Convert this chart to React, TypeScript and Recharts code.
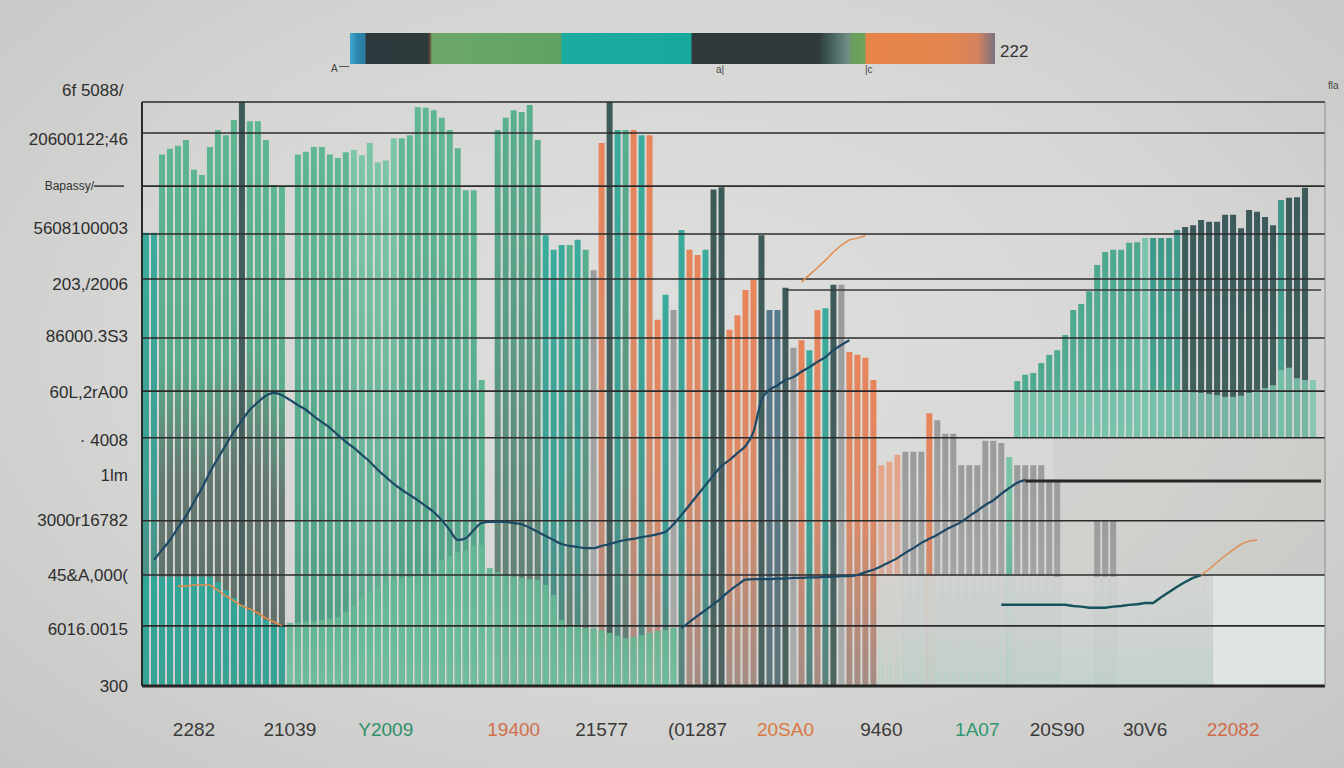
import React from "react";
import {
  ComposedChart,
  Bar,
  Line,
  Cell,
  XAxis,
  YAxis,
  ReferenceLine,
  ReferenceArea,
} from "recharts";

// 148 thin columns (value scale 0..100, bottom to top)
const N = 148;

const TALL = [
  77.6, 77.6, 91, 92, 92.5, 93.5, 88.4, 87.5, 92.3, 95.2, 94.3, 96.9, 100, 96.7, 96.7, 93.5, 85.8, 85.6, 0, 91,
  91.5, 92.3, 92.3, 91, 90.4, 91.4, 91.8, 90.9, 93, 89.7, 90, 93.8, 93.8, 94.3, 99.1, 99, 98.6, 97.3, 95.2, 92.1,
  84.9, 84.9, 52.4, 0, 95.2, 97.3, 98.6, 98.3, 99.5, 93.5, 77.2, 74.7, 75.5, 75.5, 76.4, 74.7, 71.2, 93, 100, 95.2,
  95.2, 95.2, 94.3, 94.3, 62.7, 67, 64.4, 78.1, 74.7, 73.8, 74.7, 85, 85.4, 61, 63.5, 67.8, 69.5, 77.2, 64.4, 64.4,
  68.2, 57.9, 59.2, 57.5, 64.4, 64.7, 68.7, 68.7, 57.2, 56.7, 56.2, 52.4, 37.8, 38.4, 39.6, 40.1, 40.1, 40.1, 46.7, 45.5,
  43.2, 43.2, 37.8, 37.8, 37.8, 42, 42, 41.6, 39.2, 37.8, 37.8, 37.8, 37.8, 35.3, 35.3, 0, 0, 0, 0, 28.4,
  28.4, 28.4,
];
// colour family of each tall column
const TALL_COLORS =
  "TTDDDDDDDDDDSDDDDDDGGGGGGGLLLLLLGGGGGGGGGGGGMMMMMMTTTMTMYOSTMOTOOTYTOOTSSOOOOSBBSYOTOTSYOOOOPPPYYYOYYYYYYYYYL";

const LOW = [
  18.7, 18.7, 18.7, 18.7, 18.7, 18.7, 18.7, 18.7, 18.7, 17.8, 16.4, 15.1, 13.9, 13, 12.2, 11.3, 10.6, 10.4, 10.8, 10.8,
  11, 11.1, 11.3, 11.5, 11.8, 12.7, 13.7, 15.1, 16.1, 17, 17.8, 18.2, 18.5, 18.7, 18.8, 19, 19.5, 21.6, 22.3, 22.9,
  23.3, 24, 24.1, 20.2, 19.5, 19, 18.7, 18.5, 18.3, 18.2, 17.3, 15.6, 11.3, 10.4, 10.1, 9.9, 9.8, 9.6, 9.1, 8.6,
  8.2, 8.4, 8.7, 9.1, 9.4, 9.6, 9.9,
];
const PALE_START = 92;
const PALE = [
  19, 19, 19, 19, 19, 19, 19, 19, 19, 19, 19, 19, 19, 19, 19, 19, 19, 19, 19, 19, 19, 19,
  18.7, 18.7, 18.7, 18.7, 18.7, 18.7, 18.7, 18.7, 18.7, 18.7, 18.7, 18.7, 18.7, 18.7, 18.7, 18.7, 18.7, 18.7, 18.7, 18.7,
];

// floating block on the right
const BLOCK_START = 109;
const BLOCK_BASE = 42.5;
const BLOCK_TOP = [
  52.2, 53.3, 53.6, 55.3, 56.7, 57.5, 60.1, 64.4, 65.4, 67.6, 72.1, 74.3, 74.7, 74.7, 75.9, 76, 76.7, 76.7, 76.7, 76.7,
  78.1, 78.6, 78.9, 79.8, 79.5, 79.5, 80.7, 80.7, 78.4, 81.5, 81.2, 80.3, 78.9, 83.2, 83.6, 83.7, 85.3,
];
const BLOCK_COLORS = "gggggggggggggggghttttsssssssssssstssss";
const LIGHT_TOP = [
  50.7, 50.7, 50.7, 50.7, 50.7, 50.7, 50.7, 50.7, 50.7, 50.7, 50.7, 50.7, 50.7, 50.7, 50.7, 50.7, 50.7, 50.7, 50.7, 50.7,
  50.7, 50.5, 50.3, 50.2, 50, 49.8, 49.5, 49.5, 49.7, 50.2, 50.7, 51, 51.5, 54.1, 54.5, 52.7, 52.4, 52.4,
];

const LINE_A_START = 1;
const LINE_A = [
  21.6, 23.3, 25, 27.1, 29.1, 31.5, 33.9, 36.6, 39, 41.3, 43.5, 45.5, 47.3, 48.6, 49.7, 50.2, 49.8, 49, 48.1, 47.3,
  46.2, 45.2, 44.2, 43, 41.8, 40.8, 39.6, 38.4, 37, 35.8, 34.6, 33.6, 32.7, 31.8, 30.8, 29.8, 28.4, 26.7, 25, 25.3,
  26.7, 27.9, 28.1, 28.1, 28.1, 27.9, 27.7, 27.1, 26.4, 25.7, 25, 24.3, 24, 23.8, 23.6, 23.6, 24, 24.3, 24.7, 25,
  25.2, 25.5, 25.7, 26, 26.4, 27.7, 29.3, 31, 32.7, 34.4, 36.1, 37.7, 38.7, 39.9, 41.1, 43.5, 49, 50.7, 51.5, 52.4,
  52.9, 53.8, 54.6, 55.5, 56.3, 57.5, 58.4, 59.2,
];
const LINE_B_START = 67;
const LINE_B = [
  9.9, 11, 12, 13, 14, 15.1, 16.3, 17.3, 18.2, 18.3, 18.3, 18.3, 18.4, 18.4, 18.5, 18.5, 18.6, 18.6, 18.7, 18.7,
  18.8, 18.8, 19, 19.5, 19.9, 20.5, 21.2, 21.9, 22.8, 23.6, 24.5, 25.2, 25.9, 26.7, 27.4, 28.1, 29.1, 30, 31, 31.8,
  32.9, 33.9, 34.8, 35.3,
];
const LINE_C_START = 107;
const LINE_C = [
  13.9, 13.9, 13.9, 13.9, 13.9, 13.9, 13.9, 13.9, 13.9, 13.7, 13.6, 13.4, 13.4, 13.4, 13.6, 13.7, 13.9, 14, 14.2, 14.2,
  15.2, 16.1, 17, 17.8, 18.5, 19,
];
const ORANGE_C_START = 132;
const ORANGE_C = [19, 20, 21.2, 22.3, 23.3, 24.3, 24.8, 25];
const ORANGE_TOP_START = 82;
const ORANGE_TOP = [69.2, 70.4, 71.6, 72.9, 74.3, 75.5, 76.4, 76.7, 77.1];
const ORANGE_LEFT_START = 4;
const ORANGE_LEFT = [17.1, 17.1, 17.3, 17.3, 17.3, 16.4, 15.4, 14.6, 13.7, 13.2, 12.5, 11.6, 11, 10.3];

// axes
const GRID_LEVELS = [100, 94.7, 85.6, 77.4, 69.7, 59.6, 50.5, 42.5, 28.3, 19, 10.3];
const LEFT_TICKS = [93.5, 85.6, 78.3, 68.8, 59.8, 50.3, 42.1, 36.1, 28.3, 19, 9.6, 0];
const LEFT_LABELS = [
  "20600122;46", "Bapassy/", "5608100003", "203,/2006", "86000.3S3", "60L,2rA00",
  "· 4008", "1lm", "3000r16782", "45&A,000(", "6016.0015", "300",
];
const RIGHT_TICKS = [85.8, 77.6, 72.4, 68.3, 52.2, 42.8, 21.4, 9.6, 0];
const RIGHT_LABELS = ["2", "2", "3", "3", "2", "2", "2", "x", "2"];
const BOTTOM_IDX = [6, 18, 30, 46, 57, 69, 80, 92, 104, 114, 125, 136];
const BOTTOM_TEXT = ["2282", "21039", "Y2009", "19400", "21577", "(01287", "20SA0", "9460", "1A07", "20S90", "30V6", "22082"];
const BOTTOM_COLOR = ["#3a3a3a", "#3a3a3a", "#2e8f6a", "#d0704a", "#3a3a3a", "#3a3a3a", "#d9783f", "#3a3a3a", "#2e9870", "#3a3a3a", "#3a3a3a", "#d06a4a"];

const GRADS: Record<string, [number, string][]> = {
  T: [[0, "#3aab9c"], [0.55, "#3f9f94"], [1, "#5b807a"]],
  D: [[0, "#5db592"], [0.4, "#5aab8c"], [0.62, "#64786f"], [1, "#5f6d68"]],
  G: [[0, "#5fb694"], [0.6, "#58a98c"], [1, "#4f9a85"]],
  L: [[0, "#7cc6a8"], [1, "#5aa68c"]],
  M: [[0, "#58b08f"], [0.5, "#5c9580"], [1, "#6b7772"]],
  S: [[0, "#3c5a58"], [1, "#4e6461"]],
  O: [[0, "#e8845a"], [0.5, "#d98a68"], [1, "#a38c84"]],
  Y: [[0, "#9a9b9b"], [1, "#aaadac"]],
  P: [[0, "#e6a488"], [1, "#c9b4aa"]],
  B: [[0, "#557a8e"], [1, "#5e747c"]],
  lt: [[0, "#2ea89b"], [1, "#36a698"]],
  lg: [[0, "#63b792"], [1, "#70c09f"]],
  lp: [[0, "#d3d6d4"], [0.5, "#cdd4d1"], [1, "#bfd4ca"]],
  g: [[0, "#4ea88f"], [1, "#5ab299"]],
  t: [[0, "#40988b"], [1, "#4aa290"]],
  h: [[0, "#7cc4ae"], [1, "#73bea8"]],
  s: [[0, "#3c595c"], [1, "#44625f"]],
};

const pick = (arr: number[], start: number, i: number) =>
  i >= start && i < start + arr.length ? arr[i - start] : null;

const data = Array.from({ length: N }, (_, i) => {
  const top = pick(BLOCK_TOP, BLOCK_START, i);
  const light = pick(LIGHT_TOP, BLOCK_START, i);
  const pale = pick(PALE, PALE_START, i);
  return {
    idx: i,
    tall: TALL[i] ? TALL[i] : null,
    tc: TALL_COLORS[i] ?? "Y",
    low: LOW[i] ? LOW[i] : pale,
    lc: i < 18 ? "lt" : LOW[i] ? "lg" : "lp",
    block: top != null ? [BLOCK_BASE, top] : null,
    bc: BLOCK_COLORS[i - BLOCK_START] ?? "s",
    light: light != null ? [BLOCK_BASE, light] : null,
    lineA: pick(LINE_A, LINE_A_START, i),
    lineB: pick(LINE_B, LINE_B_START, i),
    lineC: pick(LINE_C, LINE_C_START, i),
    orC: pick(ORANGE_C, ORANGE_C_START, i),
    orTop: pick(ORANGE_TOP, ORANGE_TOP_START, i),
    orLeft: pick(ORANGE_LEFT, ORANGE_LEFT_START, i),
  };
});

const FONT = "'Liberation Sans', Arial, sans-serif";

const BottomTick = (props: any) => {
  const { x, y, payload } = props;
  const k = BOTTOM_IDX.indexOf(payload.value);
  if (k < 0) return null;
  return (
    <text x={x} y={y + 41} textAnchor="middle" dominantBaseline="central" fontSize={19} fill={BOTTOM_COLOR[k]} fontFamily={FONT}>
      {BOTTOM_TEXT[k]}
    </text>
  );
};

const LeftTick = (props: any) => {
  const { x, y, payload } = props;
  const k = LEFT_TICKS.indexOf(payload.value);
  if (k < 0) return null;
  if (k === 1) {
    return (
      <g>
        <text x={x - 34} y={y} textAnchor="end" dominantBaseline="central" fontSize={12} fill="#333" fontFamily={FONT}>
          {LEFT_LABELS[k]}
        </text>
        <line x1={x - 34} x2={x - 4} y1={y} y2={y} stroke="#333" strokeWidth={1.5} />
      </g>
    );
  }
  return (
    <text x={x} y={y} textAnchor="end" dominantBaseline="central" fontSize={17} fill="#2e2e2e" fontFamily={FONT}>
      {LEFT_LABELS[k]}
    </text>
  );
};

const RightTick = (props: any) => {
  const { x, y, payload } = props;
  const k = RIGHT_TICKS.indexOf(payload.value);
  if (k < 0) return null;
  return (
    <text x={x} y={y} textAnchor="start" dominantBaseline="central" fontSize={15} fill="#333" fontFamily={FONT}>
      {RIGHT_LABELS[k]}
    </text>
  );
};

const legendBg =
  "linear-gradient(to right, #43a8d0 0px, #2a86ad 8px, #2b7da3 15px, #2d393c 16px, #2e3a3c 78px, #6b4a35 80px, #6fa66a 82px, #66a667 140px, #5fa262 211px, #1bab9f 212px, #18a99d 341px, #2f383a 342px, #30393b 468px, #3e5754 478px, #6f8f86 498px, #6a9f5c 503px, #6ea35a 515px, #e78448 516px, #e2854f 600px, #d6825e 627px, #7b7381 645px)";

export default function App() {
  return (
    <div
      style={{
        position: "absolute",
        left: 0,
        top: 0,
        width: 1344,
        height: 768,
        overflow: "hidden",
        fontFamily: FONT,
        background: "radial-gradient(ellipse at 50% 45%, #dfdfdd 0%, #d6d6d4 55%, #c6c6c4 100%)",
      }}
    >
      {/* colour strip legend */}
      <div style={{ position: "absolute", left: 350, top: 33, width: 645, height: 31, background: legendBg }} />
      <div style={{ position: "absolute", left: 1000, top: 42, fontSize: 17, color: "#333" }}>222</div>
      <div style={{ position: "absolute", left: 331, top: 63, fontSize: 10, color: "#444" }}>A</div>
      <div style={{ position: "absolute", left: 339, top: 66, width: 10, height: 1, background: "#555" }} />
      <div style={{ position: "absolute", left: 716, top: 64, fontSize: 10, color: "#444" }}>a|</div>
      <div style={{ position: "absolute", left: 865, top: 64, fontSize: 10, color: "#444" }}>|c</div>
      <div style={{ position: "absolute", left: 62, top: 81, fontSize: 17, color: "#2e2e2e" }}>6f 5088/</div>
      <div style={{ position: "absolute", left: 1328, top: 80, fontSize: 10, color: "#444" }}>fla</div>

      <ComposedChart
        width={1344}
        height={768}
        data={data}
        margin={{ top: 102, right: 0, bottom: 22, left: 7 }}
        barCategoryGap={1}
      >
        <defs>
          {Object.entries(GRADS).map(([k, stops]) => (
            <linearGradient key={k} id={`g-${k}`} x1="0" y1="0" x2="0" y2="1">
              {stops.map(([o, c], j) => (
                <stop key={j} offset={o} stopColor={c} />
              ))}
            </linearGradient>
          ))}
        </defs>

        <XAxis
          xAxisId="main"
          dataKey="idx"
          interval={0}
          height={60}
          tickSize={0}
          tickLine={false}
          tick={<BottomTick />}
          axisLine={{ stroke: "#242424", strokeWidth: 3 }}
        />
        <XAxis xAxisId="x2" dataKey="idx" hide />
        <XAxis xAxisId="x3" dataKey="idx" hide />
        <XAxis xAxisId="x4" dataKey="idx" hide />
        <YAxis
          yAxisId="left"
          width={135}
          domain={[0, 100]}
          ticks={LEFT_TICKS}
          interval={0}
          tickSize={0}
          tickMargin={14}
          tickLine={false}
          tick={<LeftTick />}
          axisLine={{ stroke: "#2a2a2a", strokeWidth: 2 }}
        />
        <YAxis
          yAxisId="right"
          orientation="right"
          width={19}
          domain={[0, 100]}
          ticks={RIGHT_TICKS}
          interval={0}
          tickSize={0}
          tickMargin={6}
          tickLine={false}
          tick={<RightTick />}
          axisLine={{ stroke: "#8d8d8b", strokeWidth: 1 }}
        />

        <ReferenceArea xAxisId="main" yAxisId="left" x1={114} x2={147} y1={19} y2={BLOCK_BASE} fill="#bdbdbb" fillOpacity={0.22} stroke="none" />
        <ReferenceArea xAxisId="main" yAxisId="left" x1={134} x2={147} y1={0} y2={19} fill="#dfe5e3" fillOpacity={1} stroke="none" />

        <Bar xAxisId="main" yAxisId="left" dataKey="tall" isAnimationActive={false}>
          {data.map((d) => (
            <Cell key={d.idx} fill={`url(#g-${d.tc})`} />
          ))}
        </Bar>
        <Bar xAxisId="x2" yAxisId="left" dataKey="low" isAnimationActive={false} fillOpacity={0.93}>
          {data.map((d) => (
            <Cell key={d.idx} fill={`url(#g-${d.lc})`} />
          ))}
        </Bar>
        <Bar xAxisId="x3" yAxisId="left" dataKey="block" isAnimationActive={false}>
          {data.map((d) => (
            <Cell key={d.idx} fill={`url(#g-${d.bc})`} />
          ))}
        </Bar>
        <Bar xAxisId="x4" yAxisId="left" dataKey="light" isAnimationActive={false} fill="#7dc5af" fillOpacity={0.85} />

        {GRID_LEVELS.map((v) => (
          <ReferenceLine key={v} xAxisId="main" yAxisId="left" y={v} stroke="#2b2b2b" strokeWidth={1.6} />
        ))}
        <ReferenceLine
          xAxisId="main"
          yAxisId="left"
          segment={[{ x: 80, y: 67.8 }, { x: 147, y: 67.8 }]}
          stroke="#3a3a3a"
          strokeWidth={1.4}
        />
        <ReferenceLine
          xAxisId="main"
          yAxisId="left"
          segment={[{ x: 110, y: 35.1 }, { x: 147, y: 35.1 }]}
          stroke="#262626"
          strokeWidth={3}
        />

        <Line xAxisId="main" yAxisId="left" dataKey="orLeft" type="linear" stroke="#e08a4a" strokeWidth={1.6} dot={false} isAnimationActive={false} />
        <Line xAxisId="main" yAxisId="left" dataKey="orTop" type="linear" stroke="#e08a4a" strokeWidth={1.4} dot={false} isAnimationActive={false} />
        <Line xAxisId="main" yAxisId="left" dataKey="orC" type="linear" stroke="#e08a4a" strokeWidth={1.4} dot={false} isAnimationActive={false} />
        <Line xAxisId="main" yAxisId="left" dataKey="lineA" type="monotone" stroke="#1c4a66" strokeWidth={2.2} dot={false} isAnimationActive={false} />
        <Line xAxisId="main" yAxisId="left" dataKey="lineB" type="monotone" stroke="#1c4a66" strokeWidth={2.2} dot={false} isAnimationActive={false} />
        <Line xAxisId="main" yAxisId="left" dataKey="lineC" type="linear" stroke="#16525c" strokeWidth={2.4} dot={false} isAnimationActive={false} />
      </ComposedChart>
    </div>
  );
}
